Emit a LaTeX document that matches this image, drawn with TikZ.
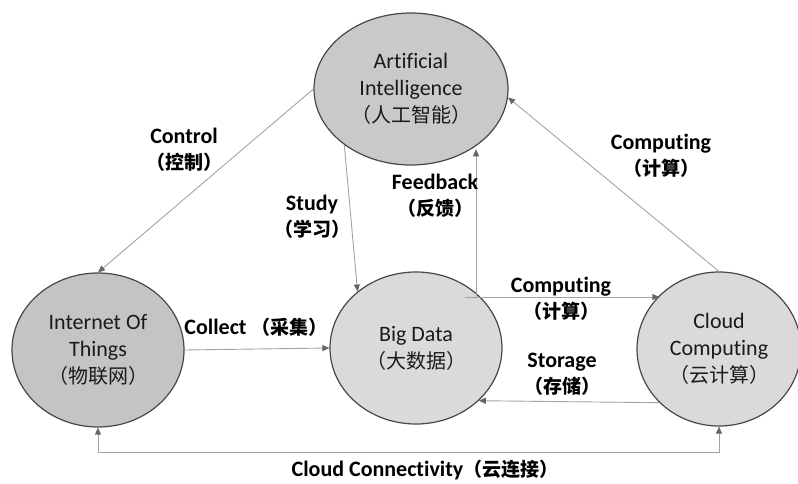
\documentclass[tikz,border=0pt]{standalone}
\usepackage{fontspec}
\setmainfont{Carlito}[Ligatures={NoCommon,NoContextual}]
\newfontfamily\cjk{Noto Sans CJK SC}
\usetikzlibrary{shapes.geometric,arrows.meta,calc}

\definecolor{rimgray}{HTML}{474747}
\definecolor{linkgray}{HTML}{A3A3A3}
\definecolor{tipgray}{HTML}{666666}
\definecolor{txtgray}{HTML}{1A1A1A}
\definecolor{fillA}{HTML}{C9C9C9}
\definecolor{fillB}{HTML}{C4C4C4}
\definecolor{fillC}{HTML}{DADADA}

\newcommand{\zh}[1]{{\cjk\fontsize{20}{27}\selectfont #1}}
\newcommand{\zhb}[1]{{\cjk\bfseries\fontsize{19}{26}\selectfont #1}}

\tikzset{
  topic/.style={ellipse, draw=rimgray, line width=1.2pt, inner sep=0pt,
    align=center, text=txtgray, font=\fontsize{22}{27}\selectfont},
  link/.style={draw=linkgray, line width=0.9pt,
    -{Triangle[length=7pt,width=6pt,color=tipgray]}},
  duallink/.style={draw=linkgray, line width=0.9pt,
    {Triangle[length=7pt,width=6pt,color=tipgray]}-{Triangle[length=7pt,width=6pt,color=tipgray]}},
  tag/.style={align=center, inner sep=0pt, font=\bfseries\fontsize{22}{26}\selectfont}
}

\begin{document}
\begin{tikzpicture}[x=1pt,y=-1pt]
\useasboundingbox (0,0) rectangle (798,484);

% the four topics
\node[topic, fill=fillA, minimum width=194pt, minimum height=152pt] (ai) at (411,89)
  {Artificial\\Intelligence\\\zh{（人工智能）}};
\node[topic, fill=fillB, minimum width=172pt, minimum height=154pt] (iot) at (98,350)
  {Internet Of\\Things\\\zh{（物联网）}};
\node[topic, fill=fillC, minimum width=172pt, minimum height=152pt] (bd) at (416,348)
  {Big Data\\\zh{（大数据）}};
\node[topic, fill=fillC, minimum width=164pt, minimum height=154pt] (cc) at (719,349)
  {Cloud\\Computing\\\zh{（云计算）}};

% loose ends inside Big Data
\coordinate (fbstart) at (476,297);
\coordinate (cpstart) at (465,297);
\coordinate (busy) at (0,452);

% connectors
\draw[link] (ai.west) -- (iot.north);
\draw[link] (ai.220) -- (bd.136);
\draw[link] (fbstart) -- (fbstart |- ai.315);
\draw[link] (cpstart) -- (cpstart -| cc.138);
\draw[link] (cc.222) -- (bd.320);
\draw[link] (iot.east) -- (bd.west);
\draw[link] (cc.north) -- (ai.355);
\draw[duallink] (iot.south) -- (iot.south |- busy) -| (cc.south);

% labels
\node[tag] (lcontrol) at (184,150) {Control\\\zhb{（控制）}};
\node[tag] (lstudy) at (312,217) {Study\\\zhb{（学习）}};
\node[tag] (lfeed) at (435,196) {Feedback\\\zhb{（反馈）}};
\node[tag] (lcomp1) at (661,156) {Computing\\\zhb{（计算）}};
\node[tag] (lcomp2) at (561,299) {Computing\\\zhb{（计算）}};
\node[tag] (lstore) at (562,374) {Storage\\\zhb{（存储）}};
\node[tag] (lcollect) at (256,327) {Collect \zhb{（采集）}};
\node[tag] (lcloud) at (425,470) {Cloud Connectivity\zhb{（云连接）}};
\end{tikzpicture}
\end{document}
